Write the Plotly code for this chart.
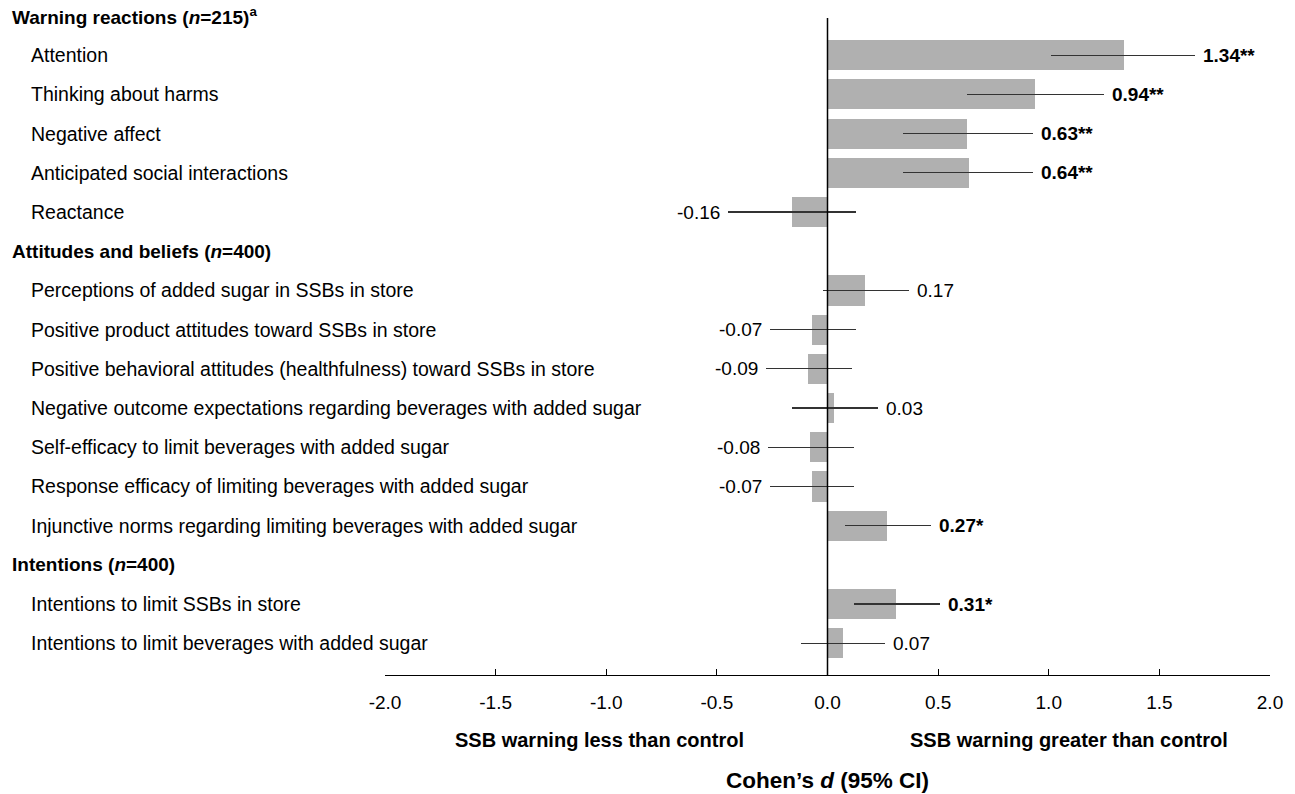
import plotly.graph_objects as go

FONT = "Liberation Sans, Arial, sans-serif"

# ---- data ----
group_headers = [
    "<b>Warning reactions (<i>n</i>=215)<sup>a</sup></b>",
    "<b>Attitudes and beliefs (<i>n</i>=400)</b>",
    "<b>Intentions (<i>n</i>=400)</b>",
]
group_sizes = [5, 7, 2]

outcomes = [
    "Attention",
    "Thinking about harms",
    "Negative affect",
    "Anticipated social interactions",
    "Reactance",
    "Perceptions of added sugar in SSBs in store",
    "Positive product attitudes toward SSBs in store",
    "Positive behavioral attitudes (healthfulness) toward SSBs in store",
    "Negative outcome expectations regarding beverages with added sugar",
    "Self-efficacy to limit beverages with added sugar",
    "Response efficacy of limiting beverages with added sugar",
    "Injunctive norms regarding limiting beverages with added sugar",
    "Intentions to limit SSBs in store",
    "Intentions to limit beverages with added sugar",
]
cohens_d = [1.34, 0.94, 0.63, 0.64, -0.16, 0.17, -0.07, -0.09, 0.03, -0.08, -0.07, 0.27, 0.31, 0.07]
ci_low = [1.01, 0.63, 0.34, 0.34, -0.45, -0.02, -0.26, -0.28, -0.16, -0.27, -0.26, 0.08, 0.12, -0.12]
ci_high = [1.66, 1.25, 0.93, 0.93, 0.13, 0.37, 0.13, 0.11, 0.23, 0.12, 0.12, 0.47, 0.51, 0.26]
signif = ["**", "**", "**", "**", "", "", "", "", "", "", "", "*", "*", ""]

x_ticks = [-2.0, -1.5, -1.0, -0.5, 0.0, 0.5, 1.0, 1.5, 2.0]
x_ticktext = ["-2.0", "-1.5", "-1.0", "-0.5", "0.0", "0.5", "1.0", "1.5", "2.0"]

# ---- build row positions ----
rows_items = []
rows_headers = []
r = 0
for h, n in zip(group_headers, group_sizes):
    rows_headers.append(r)
    r += 1
    for _ in range(n):
        rows_items.append(r)
        r += 1
n_rows = r

fig = go.Figure()
fig.add_trace(go.Bar(
    x=cohens_d, y=rows_items, orientation="h",
    marker=dict(color="#b0b0b0", line=dict(width=0)),
    width=0.77,
    error_x=dict(
        type="data", symmetric=False,
        array=[h - d for h, d in zip(ci_high, cohens_d)],
        arrayminus=[d - l for d, l in zip(cohens_d, ci_low)],
        thickness=1.3, width=0, color="#333333",
    ),
    hoverinfo="skip", showlegend=False,
))

LBL = 19
annotations = []
for h, rr in zip(group_headers, rows_headers):
    annotations.append(dict(
        xref="paper", yref="y", x=0, y=rr, xshift=-375, xanchor="left", yanchor="middle",
        text=h, showarrow=False, font=dict(family=FONT, size=LBL, color="black"),
    ))
for lab, rr in zip(outcomes, rows_items):
    annotations.append(dict(
        xref="paper", yref="y", x=0, y=rr, xshift=-356, xanchor="left", yanchor="middle",
        text=lab, showarrow=False, font=dict(family=FONT, size=19.5, color="black"),
    ))
for d, lo, hi, s, rr in zip(cohens_d, ci_low, ci_high, signif, rows_items):
    txt = f"{d:.2f}{s}"
    if s:
        txt = f"<b>{txt}</b>"
    if d >= 0:
        annotations.append(dict(x=hi, y=rr, xref="x", yref="y", xanchor="left", xshift=6,
                                text=txt, showarrow=False,
                                font=dict(family=FONT, size=LBL, color="black")))
    else:
        annotations.append(dict(x=lo, y=rr, xref="x", yref="y", xanchor="right", xshift=-6,
                                text=txt, showarrow=False,
                                font=dict(family=FONT, size=LBL, color="black")))

annotations += [
    dict(xref="x", yref="paper", x=-1.03, y=0, yshift=-65, xanchor="center", yanchor="middle",
         text="<b>SSB warning less than control</b>", showarrow=False,
         font=dict(family=FONT, size=20, color="black")),
    dict(xref="x", yref="paper", x=1.09, y=0, yshift=-65, xanchor="center", yanchor="middle",
         text="<b>SSB warning greater than control</b>", showarrow=False,
         font=dict(family=FONT, size=20, color="black")),
    dict(xref="x", yref="paper", x=0, y=0, yshift=-105, xanchor="center", yanchor="middle",
         text="<b>Cohen’s <i>d</i> (95% CI)</b>", showarrow=False,
         font=dict(family=FONT, size=22.5, color="black")),
]

fig.add_shape(type="line", xref="x", yref="y", x0=0, x1=0, y0=0.05, y1=n_rows - 0.19,
              line=dict(color="black", width=1.5))

fig.update_layout(
    width=1295, height=794,
    margin=dict(l=385, r=25, t=0, b=119),
    plot_bgcolor="white", paper_bgcolor="white",
    font=dict(family=FONT, size=LBL, color="black"),
    annotations=annotations,
    xaxis=dict(
        range=[-2.0, 2.0], tickvals=x_ticks, ticktext=x_ticktext,
        showgrid=False, zeroline=False, showline=True, linecolor="black", linewidth=1.3,
        ticks="inside", ticklen=6, tickwidth=1.3, tickcolor="black",
        ticklabelstandoff=10, tickfont=dict(family=FONT, size=LBL, color="black"),
    ),
    yaxis=dict(
        range=[n_rows - 0.19, -0.408], showticklabels=False, showgrid=False,
        zeroline=False, showline=False, ticks="",
    ),
    bargap=0,
)

# remove the default 8px body margin so the figure fills the window exactly
fig.write_html("out.html",
               config={"displayModeBar": False},
               post_script="document.body.style.margin='0';document.body.style.overflow='hidden';")
